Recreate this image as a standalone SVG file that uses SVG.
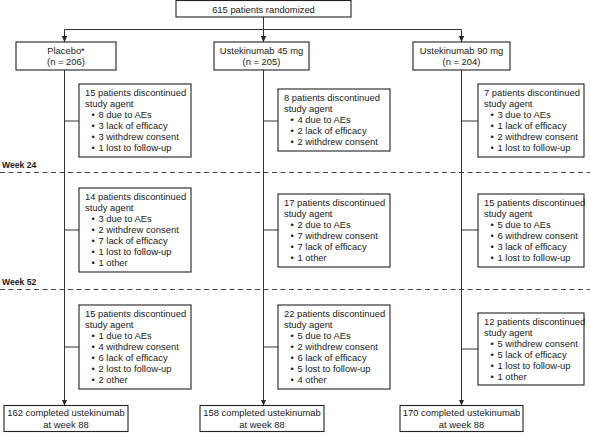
<svg xmlns="http://www.w3.org/2000/svg" width="590" height="433" viewBox="0 0 590 433">
<style>
text{font-family:"Liberation Sans",Arial,Helvetica,sans-serif;font-size:9.4px;fill:#1a1a1a}
.c{text-anchor:middle}
.wk{font-weight:bold;font-size:8.6px}
.box{fill:#fff;stroke:#222;stroke-width:1.1}
.ln{fill:none;stroke:#333;stroke-width:1}
.dash{fill:none;stroke:#333;stroke-width:0.9;stroke-dasharray:5,3.5}
</style>
<defs>
<marker id="ah" viewBox="0 0 6 6" refX="6" refY="3" markerWidth="6" markerHeight="6" orient="auto" markerUnits="userSpaceOnUse"><path d="M0,0.3 L6,3 L0,5.7 z" fill="#222"/></marker>
</defs>
<g id="weeks">
<line class="dash" x1="0" y1="172.5" x2="590" y2="172.5"/>
<text class="wk" x="2" y="167.5">Week 24</text>
<line class="dash" x1="0" y1="289.5" x2="590" y2="289.5"/>
<text class="wk" x="2" y="285">Week 52</text>
</g>
<g id="connectors">
<path class="ln" d="M263.5,17 V29.5 M64.5,29.5 H461.5"/>
<line class="ln" x1="64.5" y1="29.5" x2="64.5" y2="42" marker-end="url(#ah)"/>
<line class="ln" x1="263.5" y1="29.5" x2="263.5" y2="42" marker-end="url(#ah)"/>
<line class="ln" x1="461.5" y1="29.5" x2="461.5" y2="42" marker-end="url(#ah)"/>
<line class="ln" x1="64.5" y1="70" x2="64.5" y2="405.5" marker-end="url(#ah)"/>
<line class="ln" x1="263.5" y1="70" x2="263.5" y2="405.5" marker-end="url(#ah)"/>
<line class="ln" x1="461.5" y1="70" x2="461.5" y2="405.5" marker-end="url(#ah)"/>
<path class="ln" d="M64.5,121 H79 M263.5,121 H278 M461.5,121 H478 M64.5,230 H79 M263.5,230 H278 M461.5,230 H478 M64.5,347 H79 M263.5,347 H278 M461.5,349 H478"/>
</g>
<g id="randomized">
<rect class="box" x="176" y="0.5" width="175" height="16.5"/>
<text class="c" x="263.5" y="12.5">615 patients randomized</text>
</g>
<g id="placebo">
<rect class="box" x="16" y="42" width="100" height="28"/>
<text class="c" x="66" y="53.5">Placebo*</text>
<text class="c" x="66" y="65">(n = 206)</text>
</g>
<g id="uste45">
<rect class="box" x="214" y="42" width="95" height="28"/>
<text class="c" x="261.5" y="53.5">Ustekinumab 45 mg</text>
<text class="c" x="261.5" y="65">(n = 205)</text>
</g>
<g id="uste90">
<rect class="box" x="413" y="42" width="97" height="28"/>
<text class="c" x="461.5" y="53.5">Ustekinumab 90 mg</text>
<text class="c" x="461.5" y="65">(n = 204)</text>
</g>
<g id="p1">
<rect class="box" x="79" y="84" width="112" height="73"/>
<text x="85" y="95.5">15 patients discontinued</text>
<text x="85" y="106.5">study agent</text>
<text x="91.5" y="117.5">•</text><text x="98.5" y="117.5">8 due to AEs</text>
<text x="91.5" y="128.5">•</text><text x="98.5" y="128.5">3 lack of efficacy</text>
<text x="91.5" y="139.5">•</text><text x="98.5" y="139.5">3 withdrew consent</text>
<text x="91.5" y="150.5">•</text><text x="98.5" y="150.5">1 lost to follow-up</text>
</g>
<g id="m1">
<rect class="box" x="278" y="89" width="112" height="62"/>
<text x="284" y="100.5">8 patients discontinued</text>
<text x="284" y="111.5">study agent</text>
<text x="290.5" y="122.5">•</text><text x="297.5" y="122.5">4 due to AEs</text>
<text x="290.5" y="133.5">•</text><text x="297.5" y="133.5">2 lack of efficacy</text>
<text x="290.5" y="144.5">•</text><text x="297.5" y="144.5">2 withdrew consent</text>
</g>
<g id="r1">
<rect class="box" x="478" y="84" width="106" height="73"/>
<text x="484" y="95.5">7 patients discontinued</text>
<text x="484" y="106.5">study agent</text>
<text x="490.5" y="117.5">•</text><text x="497.5" y="117.5">3 due to AEs</text>
<text x="490.5" y="128.5">•</text><text x="497.5" y="128.5">1 lack of efficacy</text>
<text x="490.5" y="139.5">•</text><text x="497.5" y="139.5">2 withdrew consent</text>
<text x="490.5" y="150.5">•</text><text x="497.5" y="150.5">1 lost to follow-up</text>
</g>
<g id="p2">
<rect class="box" x="79" y="188" width="112" height="84"/>
<text x="85" y="199.5">14 patients discontinued</text>
<text x="85" y="210.5">study agent</text>
<text x="91.5" y="221.5">•</text><text x="98.5" y="221.5">3 due to AEs</text>
<text x="91.5" y="232.5">•</text><text x="98.5" y="232.5">2 withdrew consent</text>
<text x="91.5" y="243.5">•</text><text x="98.5" y="243.5">7 lack of efficacy</text>
<text x="91.5" y="254.5">•</text><text x="98.5" y="254.5">1 lost to follow-up</text>
<text x="91.5" y="265.5">•</text><text x="98.5" y="265.5">1 other</text>
</g>
<g id="m2">
<rect class="box" x="278" y="194" width="112" height="73"/>
<text x="284" y="205.5">17 patients discontinued</text>
<text x="284" y="216.5">study agent</text>
<text x="290.5" y="227.5">•</text><text x="297.5" y="227.5">2 due to AEs</text>
<text x="290.5" y="238.5">•</text><text x="297.5" y="238.5">7 withdrew consent</text>
<text x="290.5" y="249.5">•</text><text x="297.5" y="249.5">7 lack of efficacy</text>
<text x="290.5" y="260.5">•</text><text x="297.5" y="260.5">1 other</text>
</g>
<g id="r2">
<rect class="box" x="478" y="194" width="106" height="73"/>
<text x="484" y="205.5">15 patients discontinued</text>
<text x="484" y="216.5">study agent</text>
<text x="490.5" y="227.5">•</text><text x="497.5" y="227.5">5 due to AEs</text>
<text x="490.5" y="238.5">•</text><text x="497.5" y="238.5">6 withdrew consent</text>
<text x="490.5" y="249.5">•</text><text x="497.5" y="249.5">3 lack of efficacy</text>
<text x="490.5" y="260.5">•</text><text x="497.5" y="260.5">1 lost to follow-up</text>
</g>
<g id="p3">
<rect class="box" x="79" y="305" width="112" height="84"/>
<text x="85" y="316.5">15 patients discontinued</text>
<text x="85" y="327.5">study agent</text>
<text x="91.5" y="338.5">•</text><text x="98.5" y="338.5">1 due to AEs</text>
<text x="91.5" y="349.5">•</text><text x="98.5" y="349.5">4 withdrew consent</text>
<text x="91.5" y="360.5">•</text><text x="98.5" y="360.5">6 lack of efficacy</text>
<text x="91.5" y="371.5">•</text><text x="98.5" y="371.5">2 lost to follow-up</text>
<text x="91.5" y="382.5">•</text><text x="98.5" y="382.5">2 other</text>
</g>
<g id="m3">
<rect class="box" x="278" y="305" width="112" height="84"/>
<text x="284" y="316.5">22 patients discontinued</text>
<text x="284" y="327.5">study agent</text>
<text x="290.5" y="338.5">•</text><text x="297.5" y="338.5">5 due to AEs</text>
<text x="290.5" y="349.5">•</text><text x="297.5" y="349.5">2 withdrew consent</text>
<text x="290.5" y="360.5">•</text><text x="297.5" y="360.5">6 lack of efficacy</text>
<text x="290.5" y="371.5">•</text><text x="297.5" y="371.5">5 lost to follow-up</text>
<text x="290.5" y="382.5">•</text><text x="297.5" y="382.5">4 other</text>
</g>
<g id="r3">
<rect class="box" x="478" y="313" width="106" height="72"/>
<text x="484" y="324.5">12 patients discontinued</text>
<text x="484" y="335.5">study agent</text>
<text x="490.5" y="346.5">•</text><text x="497.5" y="346.5">5 withdrew consent</text>
<text x="490.5" y="357.5">•</text><text x="497.5" y="357.5">5 lack of efficacy</text>
<text x="490.5" y="368.5">•</text><text x="497.5" y="368.5">1 lost to follow-up</text>
<text x="490.5" y="379.5">•</text><text x="497.5" y="379.5">1 other</text>
</g>
<g id="done-placebo">
<rect class="box" x="4" y="405.5" width="124" height="26"/>
<text class="c" x="66" y="416">162 completed ustekinumab</text>
<text class="c" x="66" y="427.5">at week 88</text>
</g>
<g id="done-45">
<rect class="box" x="200" y="405.5" width="124" height="26"/>
<text class="c" x="262" y="416">158 completed ustekinumab</text>
<text class="c" x="262" y="427.5">at week 88</text>
</g>
<g id="done-90">
<rect class="box" x="400" y="405.5" width="123" height="26"/>
<text class="c" x="461.5" y="416">170 completed ustekinumab</text>
<text class="c" x="461.5" y="427.5">at week 88</text>
</g>
</svg>
